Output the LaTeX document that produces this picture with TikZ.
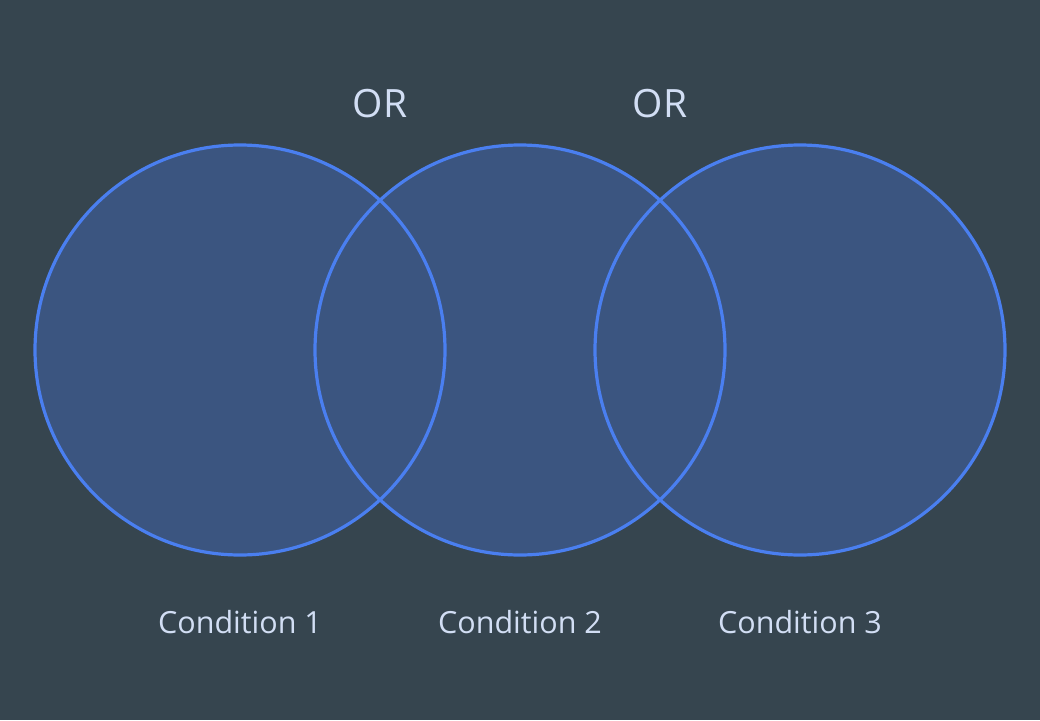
\documentclass[tikz,border=0pt]{standalone}
\usepackage{fontspec}
\setmainfont{Open Sans}
\definecolor{bg}{HTML}{36454F}
\definecolor{cfill}{HTML}{3B5580}
\definecolor{cstroke}{HTML}{4A7FF0}
\definecolor{txt}{HTML}{D2DEF4}
\begin{document}
\begin{tikzpicture}[x=1pt,y=-1pt,
  lbl/.style={text=txt,font=\fontsize{30.5}{36}\selectfont,inner sep=0pt,anchor=base},
  orlbl/.style={lbl,font=\fontsize{39}{44}\selectfont},
  circ/.style={circle,minimum size=410pt,inner sep=0pt}]
\fill[bg] (0,0) rectangle (1040,720);
\useasboundingbox (0,0) rectangle (1040,720);
\node[circ,fill=cfill] (c1) at (240,350) {};
\node[circ,fill=cfill] (c2) at (520,350) {};
\node[circ,fill=cfill] (c3) at (800,350) {};
\node[circ,draw=cstroke,line width=3.2pt] at (c1) {};
\node[circ,draw=cstroke,line width=3.2pt] at (c2) {};
\node[circ,draw=cstroke,line width=3.2pt] at (c3) {};
\node[orlbl] (or1) at (380,117) {OR};
\node[orlbl] (or2) at (660,117) {OR};
\node[lbl] (l1) at (240,633) {Condition 1};
\node[lbl] (l2) at (520,633) {Condition 2};
\node[lbl] (l3) at (800,633) {Condition 3};
\end{tikzpicture}
\end{document}
